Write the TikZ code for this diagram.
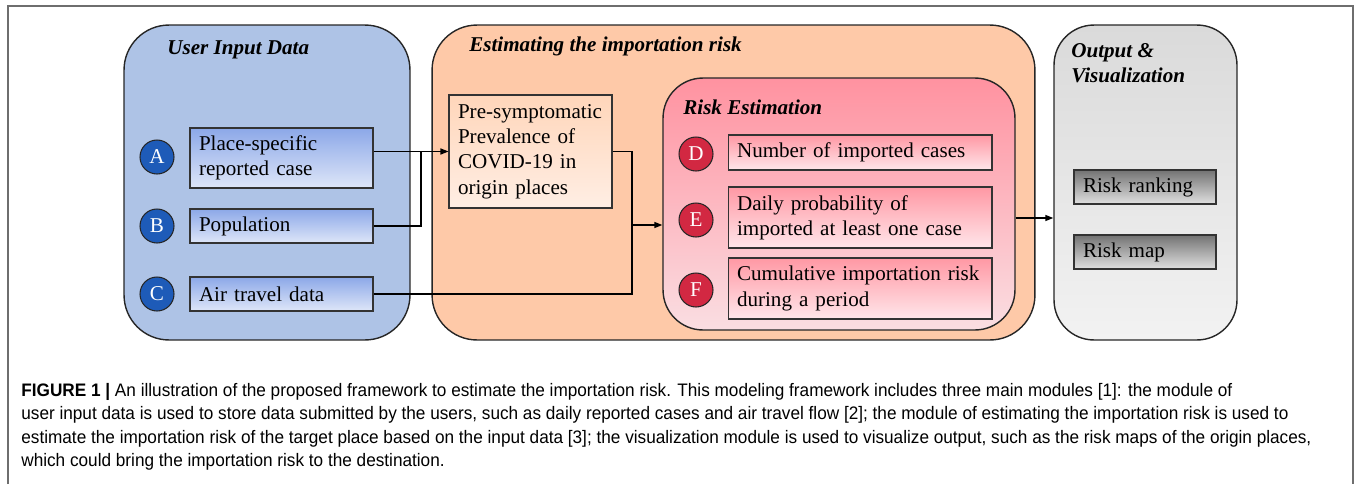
\documentclass[tikz,border=0pt]{standalone}
\usepackage{fontspec}
\setmainfont{Liberation Serif}
\newfontfamily\capfont[FakeStretch=0.95]{Liberation Sans}
\usetikzlibrary{arrows.meta}

\definecolor{blueBg}{RGB}{174,195,230}
\definecolor{blueTop}{RGB}{140,168,232}
\definecolor{blueBot}{RGB}{222,230,248}
\definecolor{blueDot}{RGB}{30,91,184}
\definecolor{orangeBg}{RGB}{254,201,168}
\definecolor{peachTop}{RGB}{255,214,186}
\definecolor{peachBot}{RGB}{255,238,228}
\definecolor{redTop}{RGB}{255,146,160}
\definecolor{redBot}{RGB}{250,222,226}
\definecolor{pinkTop}{RGB}{255,152,164}
\definecolor{pinkBot}{RGB}{255,230,234}
\definecolor{redDot}{RGB}{210,40,66}
\definecolor{greyTop}{RGB}{218,218,218}
\definecolor{greyBot}{RGB}{242,242,242}
\definecolor{frameGrey}{RGB}{110,110,110}

\begin{document}
\begin{tikzpicture}[x=0.02cm, y=-0.02cm,
    font=\fontsize{12pt}{14.4pt}\selectfont,
    module/.style={draw=black!85, line width=0.8pt, rounded corners=0.9cm, minimum height=6.3cm},
    title/.style={anchor=west, inner sep=0pt, font=\fontsize{12pt}{14.4pt}\selectfont\bfseries\itshape, align=left},
    item/.style={draw=black!80, line width=0.6pt, inner xsep=0.18cm, inner ysep=0pt, align=left},
    dot/.style={circle, draw=black!85, line width=0.6pt, minimum size=0.68cm, inner sep=0pt, text=white},
    link/.style={line width=0.8pt},
    arr/.style={link, -{Triangle[length=1.6mm, width=1.2mm]}}]
  \useasboundingbox (0,0) rectangle (1356,484);
  % frame of the figure
  \draw[frameGrey, line width=0.8pt] (8,484) -- (8,6) -- (1353,6) -- (1353,484);

  % the three modules
  \node[module, fill=blueBg, minimum width=5.72cm] (input) at (267,182.5) {};
  \node[module, fill=orangeBg, minimum width=12.06cm] (estim) at (733.5,182.5) {};
  \node[module, top color=greyTop, bottom color=greyBot, minimum width=3.66cm, rounded corners=0.8cm] (output) at (1145.5,182.5) {};
  \node[module, top color=redTop, bottom color=redBot, minimum width=7.04cm, minimum height=5.04cm, rounded corners=0.8cm] (risk) at (839,204) {};

  \node[title] (tin) at (167,50) {User Input Data};
  \node[title] (tes) at (469,46) {Estimating the importation risk};
  \node[title] (tri) at (683,107) {Risk Estimation};
  \node[title] (tou) at (1071,63) {Output \&\\Visualization};

  % user input data
  \node[item, top color=blueTop, bottom color=blueBot, text width=3.3cm, minimum height=1.2cm] (abox) at (281.5,158) {Place-specific\\reported case};
  \node[item, top color=blueTop, bottom color=blueBot, text width=3.3cm, minimum height=0.68cm] (bbox) at (281.5,226) {Population};
  \node[item, top color=blueTop, bottom color=blueBot, text width=3.3cm, minimum height=0.68cm] (cbox) at (281.5,294) {Air travel data};
  \node[dot, fill=blueDot] (a) at (157,157) {A};
  \node[dot, fill=blueDot] (b) at (157,226) {B};
  \node[dot, fill=blueDot] (c) at (157,294) {C};

  % estimating the importation risk
  \node[item, top color=peachTop, bottom color=peachBot, text width=2.9cm, minimum height=2.26cm] (pre) at (530.5,151.5) {Pre-symptomatic\\Prevalence of\\COVID-19 in\\origin places};
  \node[item, top color=pinkTop, bottom color=pinkBot, text width=4.92cm, minimum height=0.7cm] (dbox) at (860,152.5) {Number of imported cases};
  \node[item, top color=pinkTop, bottom color=pinkBot, text width=4.92cm, minimum height=1.22cm] (ebox) at (860,217.5) {Daily probability of\\imported at least one case};
  \node[item, top color=pinkTop, bottom color=pinkBot, text width=4.92cm, minimum height=1.22cm] (fbox) at (860,288.5) {Cumulative importation risk\\during a period};
  \node[dot, fill=redDot] (d) at (696,154) {D};
  \node[dot, fill=redDot] (e) at (696,220) {E};
  \node[dot, fill=redDot] (f) at (696,290) {F};

  % output and visualization
  \node[item, top color=black!55, bottom color=black!12, text width=2.48cm, minimum height=0.68cm] (rank) at (1145,187) {Risk ranking};
  \node[item, top color=black!55, bottom color=black!12, text width=2.48cm, minimum height=0.68cm] (map) at (1145,252) {Risk map};

  % connectors
  \coordinate (ab) at (421,151);
  \coordinate (mrg) at (632,225);
  \draw[arr] (abox.east |- pre.west) -- (pre.west);
  \draw[link] (bbox.east) -| (ab);
  \draw[link] (cbox.east) -| (mrg);
  \draw[link] (pre.east) -| (mrg);
  \draw[arr] (mrg) -- (mrg -| risk.west);
  \draw[arr] ([yshift=-0.28cm]risk.east) -- ([yshift=-0.28cm]risk.east -| output.west);

  % caption
  \node[anchor=north west, inner sep=0pt, align=left, font=\capfont\fontsize{10.3pt}{13.3pt}\selectfont] (caption) at (21,383)
    {\textbf{FIGURE 1 |} An illustration of the proposed framework to estimate the importation risk. This modeling framework includes three main modules [1]: the module of\\
     user input data is used to store data submitted by the users, such as daily reported cases and air travel flow [2]; the module of estimating the importation risk is used to\\
     estimate the importation risk of the target place based on the input data [3]; the visualization module is used to visualize output, such as the risk maps of the origin places,\\
     which could bring the importation risk to the destination.};
\end{tikzpicture}
\end{document}
